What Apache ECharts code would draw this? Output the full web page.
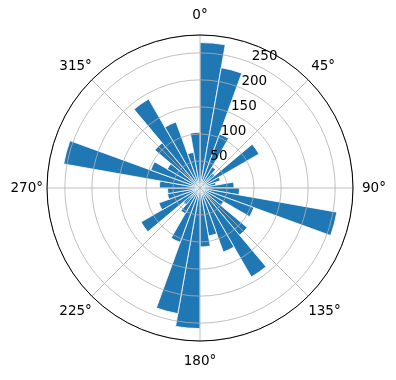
<!DOCTYPE html>
<html><head><meta charset="utf-8">
<script src="https://cdn.jsdelivr.net/npm/echarts@6/dist/echarts.min.js"></script>
<style>html,body{margin:0;padding:0;background:#fff}#c{width:396px;height:380px}</style>
</head><body><div id="c"></div>
<script>
// direction bins (degrees, clockwise from north), 10° wide
const directions = ['0','10','20','30','40','50','60','70','80','90','100','110','120','130','140','150','160','170',
  '180','190','200','210','220','230','240','250','260','270','280','290','300','310','320','330','340','350'];
// bar lengths
const counts = [269, 226, 106, 45, 35, 126, 40, 30, 63, 73, 257, 106, 50, 114, 190, 126, 90, 109,
  260, 236, 107, 55, 40, 126, 81, 61, 60, 75, 256, 97, 70, 109, 190, 130, 67, 103];
const angleTicks = [0, 45, 90, 135, 180, 225, 270, 315];
const radialTicks = [50, 100, 150, 200, 250];
const rMax = 283;
const radialLabelAngle = 22.5;

const font = 'DejaVu Sans';
const chart = echarts.init(document.getElementById('c'));
const C = ['200', '188'];
const R = 153;
const angleStyle = {0: 'a0', 45: 'a45', 90: 'a90', 135: 'a135', 180: 'a180', 225: 'a225', 270: 'a270', 315: 'a315'};
function angleLabel(v) {
  if (!angleTicks.includes(v) || v === 360) return '';
  return '{' + angleStyle[v] + '|' + v + '°}';
}
const lab = {color: '#000', fontFamily: font, fontSize: 13.5};
const st = p => Object.assign({padding: p}, lab);
chart.setOption({
  animation: false,
  polar: [
    {center: C, radius: R},
    {center: C, radius: R},
    {center: C, radius: R}
  ],
  angleAxis: [
    {polarIndex: 0, type: 'value', min: 0, max: 360, interval: 45, startAngle: 90, clockwise: true, z: 5,
     axisLine: {show: true, lineStyle: {color: '#000', width: 1}},
     axisTick: {show: false},
     splitLine: {show: true, lineStyle: {color: '#b0b0b0', width: 0.8}},
     axisLabel: {show: true, margin: 0, color: '#000', fontFamily: font, fontSize: 13.5,
       formatter: angleLabel,
       rich: {
         a0: st([0, 0, 13, 0]),
         a180: st([13, 0, 0, 0]),
         a90: st([0, 0, 0, 9]),
         a270: st([0, 4, 0, 0]),
         a45: st([0, 0, 6, 3]),
         a135: st([8, 0, 0, 0]),
         a225: st([8, 0, 0, 0]),
         a315: st([0, 0, 6, 0])
       }}},
    {polarIndex: 1, type: 'category', data: directions, startAngle: 90, clockwise: true,
     boundaryGap: true, axisLine: {show: false}, axisTick: {show: false}, axisLabel: {show: false}, splitLine: {show: false}},
    {polarIndex: 2, type: 'value', min: 0, max: 360, startAngle: 90, clockwise: true,
     axisLine: {show: false}, axisTick: {show: false}, axisLabel: {show: false}, splitLine: {show: false}}
  ],
  radiusAxis: [
    {polarIndex: 0, type: 'value', min: 0, max: rMax, interval: 50, z: 5,
     axisLine: {show: false}, axisTick: {show: false}, axisLabel: {show: false},
     splitLine: {show: true, lineStyle: {color: '#b0b0b0', width: 0.8}}},
    {polarIndex: 1, type: 'value', min: 0, max: rMax,
     axisLine: {show: false}, axisTick: {show: false}, axisLabel: {show: false}, splitLine: {show: false}},
    {polarIndex: 2, type: 'value', min: 0, max: rMax,
     axisLine: {show: false}, axisTick: {show: false}, axisLabel: {show: false}, splitLine: {show: false}}
  ],
  series: [{
    type: 'bar', coordinateSystem: 'polar', polarIndex: 1,
    data: counts, barCategoryGap: '0%',
    itemStyle: {color: '#1f77b4', borderColor: '#ffffff', borderWidth: 0.8}
  }, {
    type: 'scatter', coordinateSystem: 'polar', polarIndex: 2, z: 10,
    data: radialTicks.map(v => [v, radialLabelAngle]),
    symbol: 'circle', symbolSize: 2, silent: true,
    itemStyle: {color: 'rgba(0,0,0,0)'},
    emphasis: {disabled: true},
    labelLayout: {hideOverlap: false},
    label: {show: true, position: 'inside', align: 'left', verticalAlign: 'bottom', offset: [1.5, 3],
      color: '#000', fontFamily: font, fontSize: 13.5, opacity: 1,
      formatter: p => String(p.value[0])}
  }]
});
</script></body></html>
